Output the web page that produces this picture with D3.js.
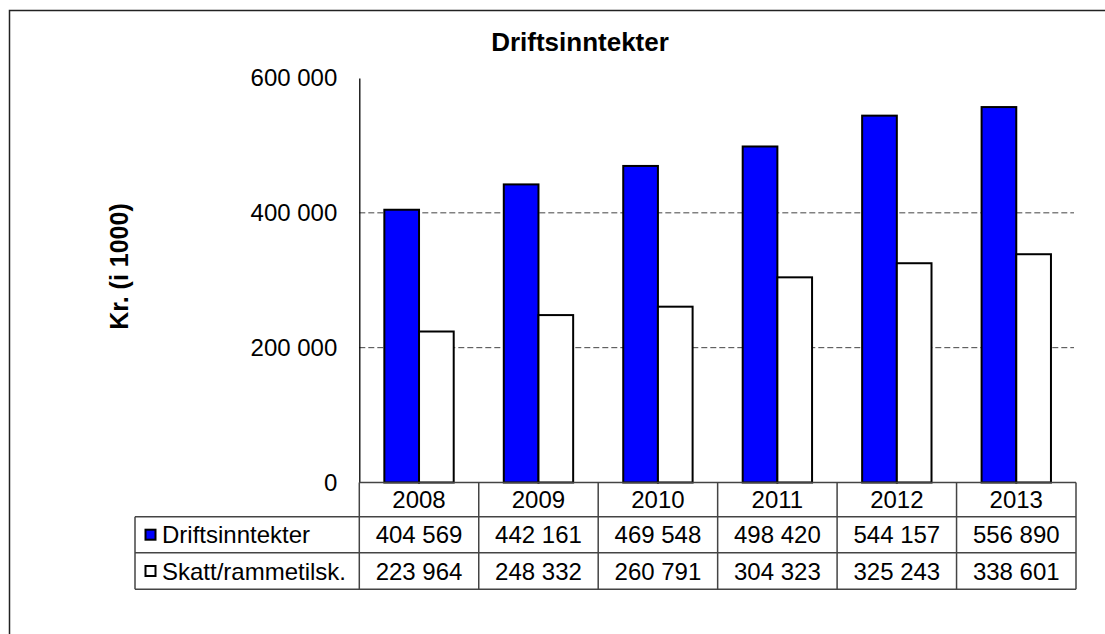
<!DOCTYPE html>
<html>
<head>
<meta charset="utf-8">
<script src="https://cdn.jsdelivr.net/npm/d3@7"></script>
<style>
  html, body { margin: 0; padding: 0; background: #fff; }
  svg { display: block; font-family: "Liberation Sans", Arial, sans-serif; }
</style>
</head>
<body>
<svg id="chart" width="1105" height="634"></svg>
<script>
const years = ["2008", "2009", "2010", "2011", "2012", "2013"];
const seriesNames = ["Driftsinntekter", "Skatt/rammetilsk."];
const driftsinntekter = [404569, 442161, 469548, 498420, 544157, 556890];
const skatt = [223964, 248332, 260791, 304323, 325243, 338601];
const seriesColors = ["#0000FF", "#FFFFFF"];
const yTicks = [0, 200000, 400000, 600000];
const gridTicks = [200000, 400000];
const titleText = "Driftsinntekter";
const yTitle = "Kr. (i 1000)";

(function () {
const seriesValues = [driftsinntekter, skatt];

const svg = d3.select("#chart");
const fmt = d3.formatLocale({ decimal: ",", thousands: " ", grouping: [3], currency: ["", " kr"] }).format(",d");

const plotLeft = 359.3, plotRight = 1076, plotTop = 78, zeroY = 482.5;
const rowYs = [482.5, 516.7, 552.7, 589.3];
const tableLeft = 135;

// outer border
svg.append("rect").attr("x", 9.5).attr("y", 10.5).attr("width", 1300).attr("height", 900)
  .attr("fill", "none").attr("stroke", "#222").attr("stroke-width", 1.5);

const x0 = d3.scaleBand().domain(years).range([plotLeft, plotRight]).padding(0);
const x1 = d3.scaleBand().domain(seriesNames).range([0, x0.bandwidth()]).paddingInner(0).paddingOuter(0.722);
const y = d3.scaleLinear().domain([0, 600000]).range([zeroY, plotTop]);

// gridlines
svg.append("g").selectAll("line").data(gridTicks).join("line")
  .attr("x1", plotLeft).attr("x2", plotRight - 2)
  .attr("y1", d => y(d)).attr("y2", d => y(d))
  .attr("stroke", "#444").attr("stroke-width", 1).attr("stroke-dasharray", "6,3");

// y axis
const yAxis = d3.axisLeft(y).tickValues(yTicks).tickSize(0).tickPadding(22).tickFormat(fmt);
const gy = svg.append("g").attr("transform", `translate(${plotLeft},0)`).call(yAxis);
gy.select(".domain").attr("stroke", "#000").attr("stroke-width", 1.3);
gy.selectAll("text").attr("font-size", 24).attr("fill", "#000")
  .attr("font-family", "'Liberation Sans', Arial, sans-serif");

// bars
seriesNames.forEach((s, si) => {
  svg.append("g").selectAll("rect").data(years).join("rect")
    .attr("x", d => x0(d) + x1(s))
    .attr("y", (d, i) => y(seriesValues[si][i]))
    .attr("width", x1.bandwidth())
    .attr("height", (d, i) => zeroY - y(seriesValues[si][i]))
    .attr("fill", seriesColors[si])
    .attr("stroke", "#000").attr("stroke-width", 2);
});

// data table
const tg = svg.append("g");
const lineColor = "#444";
tg.append("line").attr("x1", plotLeft).attr("x2", plotRight).attr("y1", rowYs[0]).attr("y2", rowYs[0]).attr("stroke", lineColor).attr("stroke-width", 1.5);
[1, 2, 3].forEach(r => {
  tg.append("line").attr("x1", tableLeft).attr("x2", plotRight).attr("y1", rowYs[r]).attr("y2", rowYs[r]).attr("stroke", lineColor).attr("stroke-width", 1.5);
});
tg.append("line").attr("x1", tableLeft).attr("x2", tableLeft).attr("y1", rowYs[1]).attr("y2", rowYs[3]).attr("stroke", lineColor).attr("stroke-width", 1.5);
tg.selectAll("line.v").data(years.concat(["end"])).join("line").attr("class", "v")
  .attr("x1", (d, i) => i < years.length ? x0(d) : plotRight)
  .attr("x2", (d, i) => i < years.length ? x0(d) : plotRight)
  .attr("y1", rowYs[0]).attr("y2", rowYs[3])
  .attr("stroke", lineColor).attr("stroke-width", 1.5);

tg.selectAll("text.year").data(years).join("text").attr("class", "year")
  .attr("x", d => x0(d) + x0.bandwidth() / 2)
  .attr("y", (rowYs[0] + rowYs[1]) / 2)
  .attr("dy", "0.36em").attr("text-anchor", "middle").attr("font-size", 24).text(d => d);

seriesNames.forEach((s, si) => {
  const cy = (rowYs[si + 1] + rowYs[si + 2]) / 2;
  tg.append("g").selectAll("text").data(seriesValues[si]).join("text")
    .attr("x", (d, i) => x0(years[i]) + x0.bandwidth() / 2)
    .attr("y", cy).attr("dy", "0.36em").attr("text-anchor", "middle")
    .attr("font-size", 24).text(d => fmt(d));
  tg.append("rect").attr("x", 145.5).attr("y", cy - 5).attr("width", 10).attr("height", 10)
    .attr("fill", seriesColors[si]).attr("stroke", "#000").attr("stroke-width", 2);
  tg.append("text").attr("x", 162).attr("y", cy).attr("dy", "0.36em")
    .attr("font-size", 24).text(s);
});

svg.append("text").attr("x", 580).attr("y", 51).attr("text-anchor", "middle")
  .attr("font-size", 26).attr("font-weight", "bold").text(titleText);

svg.append("text").attr("transform", `translate(128,266.5) rotate(-90)`)
  .attr("text-anchor", "middle").attr("font-size", 25).attr("font-weight", "bold").text(yTitle);
})();
</script>
</body>
</html>
